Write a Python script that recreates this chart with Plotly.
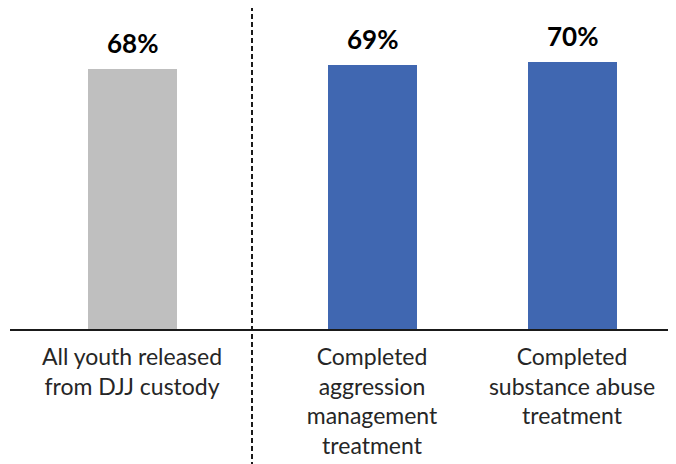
import plotly.graph_objects as go

# Data
categories = ['All youth released<br>from DJJ custody',
              'Completed<br>aggression<br>management<br>treatment',
              'Completed<br>substance abuse<br>treatment']
values = [68, 69, 70]
positions = [0, 1.2, 2.2]   # the first bar sits apart from the two treatment bars
bar_colors = ['#BFBFBF', '#4067B1', '#4067B1']
divider_at = 0.6

TEXT = '#262626'
FONT = 'Lato, Calibri, sans-serif'

fig = go.Figure()
fig.add_trace(go.Bar(x=positions, y=values, width=0.445,
                     marker=dict(color=bar_colors, line=dict(width=0)),
                     hoverinfo='skip', showlegend=False))

# Percent labels above the bars
for xp, v in zip(positions, values):
    fig.add_annotation(x=xp, y=v, text='<b>%d%%</b>' % v, showarrow=False,
                       yanchor='bottom', yshift=8,
                       font=dict(family=FONT, size=26, color='#000000'))

# Dashed divider between the overall group and the treatment groups
fig.add_shape(type='line', xref='x', yref='paper', x0=divider_at, x1=divider_at,
              y0=-0.43, y1=1.0, line=dict(color='#1a1a1a', width=2, dash='5px,3px'))

fig.update_xaxes(range=[-0.61, 2.72], tickvals=positions, ticktext=categories,
                 showline=True, linecolor='#1a1a1a', linewidth=2, ticks='',
                 showgrid=False, zeroline=False, automargin=False,
                 ticklabelstandoff=6,
                 tickfont=dict(family=FONT, size=23, color=TEXT))
fig.update_yaxes(range=[0, 84.0], visible=False, showgrid=False, automargin=False)

# page body adds an 8px offset, so the figure is sized to fill the rest of the window
fig.update_layout(width=668, height=456, margin=dict(l=2, r=0, t=0, b=135, pad=0),
                  plot_bgcolor='white', paper_bgcolor='white', bargap=0)

fig.write_html("out.html")
